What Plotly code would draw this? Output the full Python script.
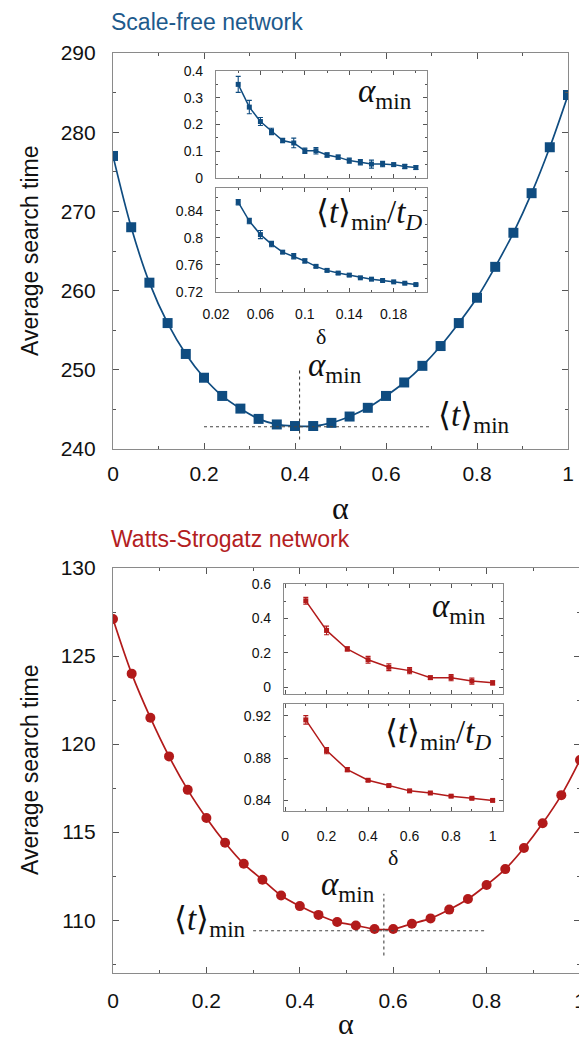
import plotly.graph_objects as go

# page body adds an 8px margin, so the figure is drawn 8px smaller and
# reference pixel coordinates are shifted by that offset
OFF = 8
W, H = 587 - OFF, 1042 - OFF

# ---------------- data ----------------
alpha = [0.0, 0.04, 0.08, 0.12, 0.16, 0.20, 0.24, 0.28, 0.32, 0.36, 0.40, 0.44, 0.48,
         0.52, 0.56, 0.60, 0.64, 0.68, 0.72, 0.76, 0.80, 0.84, 0.88, 0.92, 0.96, 1.0]
sf_time = [277.0, 268.0, 261.0, 255.9, 252.0, 249.0, 246.7, 245.1, 243.8, 243.1, 242.9,
           242.9, 243.3, 244.1, 245.2, 246.7, 248.4, 250.5, 253.0, 255.9, 259.1, 263.0,
           267.3, 272.3, 278.1, 284.7]
ws_time = [127.1, 124.0, 121.5, 119.3, 117.4, 115.8, 114.4, 113.2, 112.3, 111.4, 110.8,
           110.3, 109.9, 109.7, 109.5, 109.5, 109.8, 110.1, 110.6, 111.2, 112.0, 112.9,
           114.1, 115.5, 117.1, 119.1]

sf_delta = [0.04, 0.05, 0.06, 0.07, 0.08, 0.09, 0.10, 0.11, 0.12, 0.13, 0.14, 0.15, 0.16,
            0.17, 0.18, 0.19, 0.20]
sf_amin = [0.350, 0.265, 0.211, 0.174, 0.140, 0.131, 0.102, 0.102, 0.086, 0.078, 0.065,
           0.059, 0.052, 0.052, 0.050, 0.043, 0.039]
sf_amin_err = [0.030, 0.025, 0.015, 0.012, 0.008, 0.018, 0.010, 0.012, 0.008, 0.008, 0.010,
               0.010, 0.015, 0.010, 0.006, 0.008, 0.007]
sf_tratio = [0.853, 0.825, 0.805, 0.791, 0.779, 0.773, 0.766, 0.758, 0.752, 0.748, 0.745,
             0.741, 0.739, 0.737, 0.735, 0.733, 0.731]
sf_tratio_err = [0.004, 0.004, 0.006, 0.004, 0.002, 0.004, 0.003, 0.002, 0.002, 0.002, 0.002,
                 0.001, 0.001, 0.001, 0.001, 0.001, 0.001]

ws_delta = [0.1, 0.2, 0.3, 0.4, 0.5, 0.6, 0.7, 0.8, 0.9, 1.0]
ws_amin = [0.502, 0.330, 0.222, 0.159, 0.116, 0.096, 0.055, 0.055, 0.035, 0.025]
ws_amin_err = [0.020, 0.025, 0.012, 0.020, 0.020, 0.018, 0.010, 0.018, 0.018, 0.012]
ws_tratio = [0.916, 0.887, 0.869, 0.859, 0.854, 0.849, 0.847, 0.844, 0.842, 0.840]
ws_tratio_err = [0.004, 0.003, 0.002, 0.001, 0.001, 0.001, 0.001, 0.001, 0.001, 0.001]

# reference lines (minimum position)
sf_alpha_min, sf_t_min = 0.41, 242.8
ws_alpha_min, ws_t_min = 0.58, 109.4

BLUE = "#0f4c80"
BLUE_T = "#1d5a8c"
RED = "#b21a1a"
RED_T = "#b3201e"
FRAME = "#8a8a8a"
SANS = "Liberation Sans, Arial, sans-serif"
SERIF = "Liberation Serif, Times New Roman, serif"


def px(x):
    return (x - OFF) / W


def py(y):
    return 1 - (y - OFF) / H


fig = go.Figure()

# main curves
fig.add_trace(go.Scatter(x=alpha, y=sf_time, mode="lines+markers",
                         line=dict(color=BLUE, width=1.7, shape="spline"),
                         marker=dict(symbol="square", size=10, color=BLUE),
                         xaxis="x", yaxis="y", showlegend=False))
fig.add_trace(go.Scatter(x=alpha, y=ws_time, mode="lines+markers",
                         line=dict(color=RED, width=1.7, shape="spline"),
                         marker=dict(symbol="circle", size=10, color=RED),
                         xaxis="x4", yaxis="y4", showlegend=False))


# insets
def inset(xv, yv, err, color, xa, ya):
    fig.add_trace(go.Scatter(x=xv, y=yv, mode="lines+markers",
                             line=dict(color=color, width=1.5),
                             marker=dict(symbol="square", size=5, color=color),
                             error_y=dict(type="data", array=err, color=color,
                                          thickness=1.1, width=2.5),
                             xaxis=xa, yaxis=ya, showlegend=False))


inset(sf_delta, sf_amin, sf_amin_err, BLUE, "x2", "y2")
inset(sf_delta, sf_tratio, sf_tratio_err, BLUE, "x3", "y3")
inset(ws_delta, ws_amin, ws_amin_err, RED, "x5", "y5")
inset(ws_delta, ws_tratio, ws_tratio_err, RED, "x6", "y6")


def ax(domain, rng, dtick, minor, tick0=0, labels=True, size=20, standoff=8,
       ticklen=6, minorlen=3):
    d = dict(domain=domain, range=rng, tick0=tick0, dtick=dtick, automargin=False,
             ticks="inside", ticklen=ticklen, tickcolor="#555", tickwidth=1,
             showline=True, linecolor=FRAME, linewidth=1.2, mirror="allticks",
             showgrid=False, zeroline=False, showticklabels=labels,
             tickfont=dict(family=SANS, size=size, color="#111"),
             ticklabelstandoff=standoff,
             minor=dict(dtick=minor, ticks="inside", ticklen=minorlen,
                        tickcolor="#555", showgrid=False))
    return d


# top main
xa1 = ax([px(113), px(568)], [0, 1], 0.2, 0.1, size=21, standoff=6)
ya1 = ax([py(449), py(53)], [240, 290], 10, 5, size=21, standoff=12)
# top insets
xa2 = ax([px(216), px(427)], [0.02, 0.21], 0.04, 0.02, tick0=0.02, labels=False, size=14,
         ticklen=4, minorlen=2)
ya2 = ax([py(178), py(71)], [0, 0.4], 0.1, 0.05, size=14, standoff=9, ticklen=4, minorlen=2)
xa3 = ax([px(216), px(427)], [0.02, 0.21], 0.04, 0.02, tick0=0.02, size=14, standoff=9,
         ticklen=4, minorlen=2)
ya3 = ax([py(292), py(188)], [0.72, 0.874], 0.04, 0.02, tick0=0.72, size=14, standoff=9,
         ticklen=4, minorlen=2)
# bottom main
xa4 = ax([px(113), px(580)], [0, 1], 0.2, 0.1, size=21, standoff=9)
ya4 = ax([py(973), py(568)], [107, 130], 5, 2.5, tick0=0, size=21, standoff=12)
# bottom insets
xa5 = ax([px(284), px(503)], [-0.005, 1.05], 0.2, 0.1, labels=False, size=14,
         ticklen=4, minorlen=2)
ya5 = ax([py(694), py(584)], [-0.04, 0.6], 0.2, 0.1, size=14, standoff=9, ticklen=4,
         minorlen=2)
xa6 = ax([px(284), px(503)], [-0.005, 1.05], 0.2, 0.1, size=14, standoff=12,
         ticklen=4, minorlen=2)
ya6 = ax([py(811), py(704)], [0.83, 0.931], 0.04, 0.02, tick0=0.84, size=14, standoff=9,
         ticklen=4, minorlen=2)

for i, (xa, ya) in enumerate([(xa1, ya1), (xa2, ya2), (xa3, ya3),
                               (xa4, ya4), (xa5, ya5), (xa6, ya6)], start=1):
    sx = "" if i == 1 else str(i)
    xa["anchor"] = "y" + sx
    ya["anchor"] = "x" + sx
    fig.layout["xaxis" + sx] = xa
    fig.layout["yaxis" + sx] = ya

# dotted reference lines
dot = dict(color="#444", width=1.1, dash="dot")
fig.add_shape(type="line", xref="x", yref="y", x0=sf_alpha_min, x1=sf_alpha_min,
              y0=241.2, y1=250.0, line=dot)
fig.add_shape(type="line", xref="x", yref="y", x0=0.2, x1=0.7, y0=sf_t_min, y1=sf_t_min,
              line=dot)
fig.add_shape(type="line", xref="x4", yref="y4", x0=ws_alpha_min, x1=ws_alpha_min,
              y0=108.0, y1=111.5, line=dot)
fig.add_shape(type="line", xref="x4", yref="y4", x0=0.3, x1=0.8, y0=ws_t_min, y1=ws_t_min,
              line=dot)

AMIN = "<i>α</i><sub>min</sub>"
TMIN = "⟨<i>t</i>⟩<sub>min</sub>"
TRATIO = "⟨<i>t</i>⟩<sub>min</sub>/<i>t</i><sub><i>D</i></sub>"
mfont = dict(family=SERIF, size=33, color="#111")

ann = []
# insets labels
ann.append(dict(text=AMIN, xref="paper", yref="paper", x=px(414), y=py(93),
                xanchor="right", yanchor="middle", showarrow=False, font=mfont))
ann.append(dict(text=TRATIO, xref="paper", yref="paper", x=px(424), y=py(214),
                xanchor="right", yanchor="middle", showarrow=False, font=mfont))
ann.append(dict(text=AMIN, xref="paper", yref="paper", x=px(488), y=py(608),
                xanchor="right", yanchor="middle", showarrow=False, font=mfont))
ann.append(dict(text=TRATIO, xref="paper", yref="paper", x=px(493), y=py(734),
                xanchor="right", yanchor="middle", showarrow=False, font=mfont))
# main plot labels
ann.append(dict(text=AMIN, xref="x", yref="y", x=0.425, y=250.3, xanchor="left",
                yanchor="middle", showarrow=False, font=mfont))
ann.append(dict(text=TMIN, xref="x", yref="y", x=0.71, y=244.0, xanchor="left",
                yanchor="middle", showarrow=False, font=mfont))
ann.append(dict(text=AMIN, xref="x4", yref="y4", x=0.565, y=111.9, xanchor="right",
                yanchor="middle", showarrow=False, font=mfont))
ann.append(dict(text=TMIN, xref="x4", yref="y4", x=0.29, y=109.9, xanchor="right",
                yanchor="middle", showarrow=False, font=mfont))
# axis titles
ann.append(dict(text="α", xref="paper", yref="paper", x=px(340), y=py(508),
                xanchor="center", yanchor="middle", showarrow=False,
                font=dict(family=SERIF, size=32, color="#111")))
ann.append(dict(text="α", xref="paper", yref="paper", x=px(346), y=py(1024),
                xanchor="center", yanchor="middle", showarrow=False,
                font=dict(family=SERIF, size=30, color="#111")))
ann.append(dict(text="δ", xref="paper", yref="paper", x=px(321), y=py(336),
                xanchor="center", yanchor="middle", showarrow=False,
                font=dict(family=SERIF, size=22, color="#111")))
ann.append(dict(text="δ", xref="paper", yref="paper", x=px(393), y=py(857),
                xanchor="center", yanchor="middle", showarrow=False,
                font=dict(family=SERIF, size=22, color="#111")))
ann.append(dict(text="Average search time", xref="paper", yref="paper", x=px(30),
                y=py(251), xanchor="center", yanchor="middle", textangle=-90,
                showarrow=False, font=dict(family=SANS, size=23, color="#111")))
ann.append(dict(text="Average search time", xref="paper", yref="paper", x=px(30),
                y=py(770), xanchor="center", yanchor="middle", textangle=-90,
                showarrow=False, font=dict(family=SANS, size=23, color="#111")))
# panel titles
ann.append(dict(text="Scale-free network", xref="paper", yref="paper", x=px(109),
                y=py(22), xanchor="left", yanchor="middle", showarrow=False,
                font=dict(family=SANS, size=23, color=BLUE_T)))
ann.append(dict(text="Watts-Strogatz network", xref="paper", yref="paper", x=px(109),
                y=py(539), xanchor="left", yanchor="middle", showarrow=False,
                font=dict(family=SANS, size=23, color=RED_T)))

fig.update_layout(width=W, height=H,
                  margin=dict(l=0, r=0, t=0, b=0, pad=0, autoexpand=False),
                  paper_bgcolor="white", plot_bgcolor="white", annotations=ann,
                  showlegend=False)

fig.write_html("out.html")
